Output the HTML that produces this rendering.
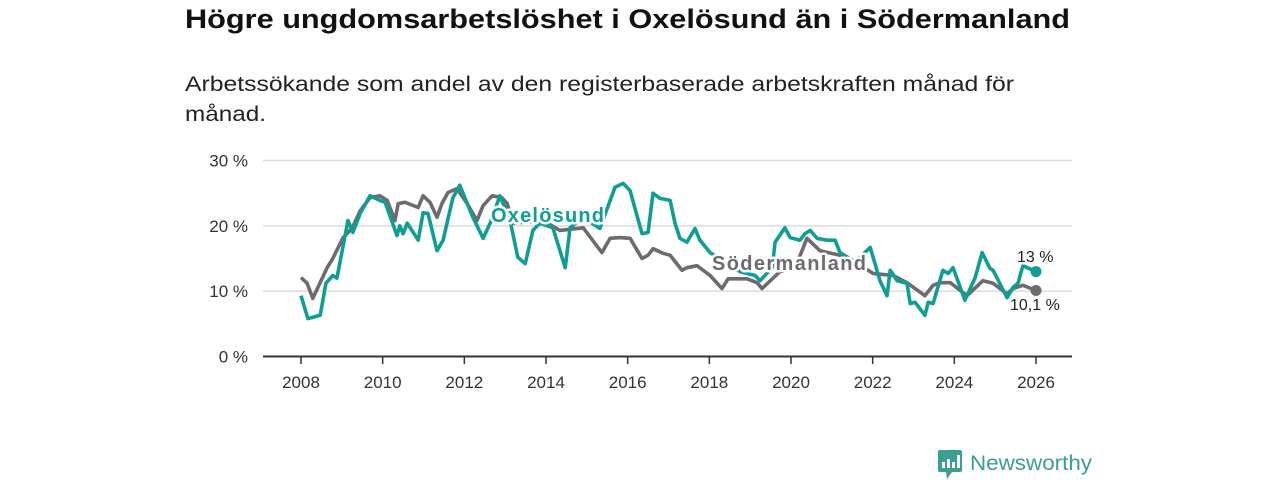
<!DOCTYPE html>
<html><head><meta charset="utf-8"><style>
body{margin:0;background:#fff;}
svg{display:block;font-family:"Liberation Sans","DejaVu Sans",sans-serif;}
.lbl{paint-order:stroke;stroke:#fff;stroke-width:5px;stroke-linejoin:round;}
</style></head><body>
<svg id="chart" width="1280" height="480" viewBox="0 0 1280 480" xmlns="http://www.w3.org/2000/svg">
<text x="185" y="28" font-size="27" font-weight="bold" fill="#111" textLength="885" lengthAdjust="spacingAndGlyphs">Högre ungdomsarbetslöshet i Oxelösund än i Södermanland</text>
<text x="185" y="91" font-size="21" fill="#222" textLength="829" lengthAdjust="spacingAndGlyphs">Arbetssökande som andel av den registerbaserade arbetskraften månad för</text>
<text x="185" y="121" font-size="21" fill="#222" textLength="81" lengthAdjust="spacingAndGlyphs">månad.</text>
<g id="grid"></g>
<g id="xaxis"></g>
<g id="series"></g>
<g id="labels"></g>
<g>
<rect x="938" y="450" width="24" height="22" rx="2" fill="#3a9e90"/>
<polygon points="946,472 952,472 947,479" fill="#3a9e90"/>
<rect x="942" y="462" width="3" height="6" fill="#fff"/><rect x="947" y="459" width="3" height="9" fill="#fff"/><rect x="952" y="462" width="3" height="6" fill="#fff"/><rect x="957" y="455" width="3" height="13" fill="#fff"/>
<text x="970" y="470" font-size="21" fill="#3a9e90" textLength="122" lengthAdjust="spacingAndGlyphs">Newsworthy</text>
</g>
</svg>
<script>
const yTicks=[0,10,20,30];
const xTicks=[2008,2010,2012,2014,2016,2018,2020,2022,2024,2026];
const oxYears=[2008.0,2008.17,2008.47,2008.61,2008.78,2008.88,2009.15,2009.27,2009.45,2009.69,2009.93,2010.06,2010.35,2010.42,2010.5,2010.6,2010.87,2010.99,2011.11,2011.33,2011.48,2011.72,2011.89,2012.21,2012.46,2012.63,2012.87,2013.12,2013.31,2013.49,2013.68,2013.85,2014.17,2014.47,2014.59,2014.91,2015.32,2015.69,2015.89,2016.06,2016.35,2016.5,2016.62,2016.79,2017.04,2017.16,2017.28,2017.45,2017.65,2017.77,2018.02,2018.38,2018.75,2019.12,2019.24,2019.54,2019.61,2019.85,2019.98,2020.22,2020.34,2020.47,2020.64,2020.88,2021.08,2021.2,2021.57,2021.94,2022.18,2022.35,2022.43,2022.6,2022.84,2022.92,2023.04,2023.28,2023.36,2023.48,2023.72,2023.85,2023.97,2024.26,2024.51,2024.68,2024.87,2024.95,2025.29,2025.44,2025.56,2025.68,2026.0];
const oxValues=[9.3,5.8,6.3,11.2,12.4,12,20.8,19,21.9,24.6,23.9,23.6,18.5,20,18.8,20.4,17.8,22,21.9,16.2,17.8,24.3,26.2,21.3,18.1,20.4,24.6,20.8,15.2,14.2,19.3,20.4,19.7,13.6,19.7,21.3,19.6,25.9,26.5,25.4,18.8,19,25,24.2,23.9,20.4,18.1,17.5,19.6,17.8,15.9,14.5,13,12.4,11.6,13.6,17.5,19.7,18.2,17.8,18.8,19.3,18.1,17.8,17.8,15.9,14.5,16.7,11.6,9.3,13.2,11.6,11.2,8.1,8.3,6.3,8.3,8.1,13.2,12.7,13.6,8.6,12.1,15.9,13.5,13.2,9,10.6,11.2,13.9,13];
const soYears=[2008,2008.15,2008.29,2008.64,2008.78,2009.03,2009.25,2009.45,2009.69,2009.93,2010.11,2010.3,2010.38,2010.55,2010.87,2010.99,2011.16,2011.33,2011.45,2011.6,2011.82,2012.07,2012.31,2012.46,2012.68,2012.92,2013.05,2013.19,2013.93,2014.34,2014.91,2015.37,2015.57,2015.81,2016.06,2016.35,2016.5,2016.62,2016.87,2017.04,2017.33,2017.45,2017.7,2018.02,2018.31,2018.46,2018.92,2019.17,2019.29,2019.73,2020.1,2020.39,2020.71,2021.2,2021.89,2022.01,2022.5,2022.84,2023.28,2023.48,2023.65,2023.9,2024.31,2024.7,2024.95,2025.29,2025.44,2025.68,2026.0];
const soValues=[12.1,11.2,8.9,13.6,15,18.2,19.6,22.3,24.3,24.6,23.9,20.8,23.4,23.6,22.8,24.6,23.6,21.3,23.4,25.1,25.7,23.4,20.8,23.1,24.6,24.3,23.4,20.4,20.8,19.3,19.7,15.9,18.1,18.2,18.1,15,15.5,16.5,15.8,15.5,13.2,13.6,13.9,12.4,10.4,11.9,11.9,11.3,10.4,13,13.5,18.1,16.2,15.5,13.2,12.7,12.4,11.3,9.3,10.9,11.3,11.3,9.3,11.6,11.2,9.6,10.4,10.9,10.1];
const NS='http://www.w3.org/2000/svg';
const X=y=>301+(y-2008)*(735/18);
const Y=v=>356.5-v*6.533;
function mk(tag,attrs,parent){const e=document.createElementNS(NS,tag);for(const k in attrs)e.setAttribute(k,attrs[k]);parent.appendChild(e);return e;}
const grid=document.getElementById('grid');
yTicks.forEach(t=>{
  if(t>0){const l=mk('line',{x1:263,x2:1072,y1:Y(t),y2:Y(t),stroke:'#dcdcdc','stroke-width':1.5},grid);
  
  }
  const tx=mk('text',{x:248,y:Y(t)+6,'text-anchor':'end','font-size':17,fill:'#333'},grid);
  tx.textContent=t+' %';
  
  
});
const xa=document.getElementById('xaxis');
const ax=mk('line',{x1:263,x2:1072,y1:356.5,y2:356.5,stroke:'#333','stroke-width':2},xa);


xTicks.forEach(t=>{
  const tk=mk('line',{x1:X(t),x2:X(t),y1:356,y2:364,stroke:'#333','stroke-width':1.5},xa);
  
  
  const tx=mk('text',{x:X(t),y:388,'text-anchor':'middle','font-size':17,fill:'#333'},xa);
  tx.textContent=t;
  
  
});
const sg=document.getElementById('series');
function line(ys,vs,color,name){
  const d=ys.map((y,i)=>(i?'L':'M')+X(y).toFixed(1)+','+Y(vs[i]).toFixed(1)).join('');
  const p=mk('path',{d:d,fill:'none',stroke:color,'stroke-width':3.6,'stroke-linejoin':'round'},sg);
  
  
  const c=mk('circle',{cx:X(ys[ys.length-1]),cy:Y(vs[vs.length-1]),r:5.5,fill:color},sg);
  
  
}
line(soYears,soValues,'#6d6a70','sodermanland');
line(oxYears,oxValues,'#0f9e93','oxelosund');
const lg=document.getElementById('labels');
function lab(x,y,txt,color,size,bold,name){
  const t=mk('text',{x:x,y:y,'font-size':size,fill:color,class:'lbl'},lg);
  if(bold)t.setAttribute('font-weight','bold');
  t.textContent=txt;
  
  
  return t;
}
lab(491,222,'Oxelösund','#0f9e93',20,true,'oxelosund-label').setAttribute('textLength','113');
lab(712,270,'Södermanland','#6d6a70',20,true,'sodermanland-label').setAttribute('textLength','154');
lab(1017,262,'13 %','#222',16,false,'oxelosund-end-value');
lab(1010,310,'10,1 %','#222',16,false,'sodermanland-end-value');
</script>
</body></html>
